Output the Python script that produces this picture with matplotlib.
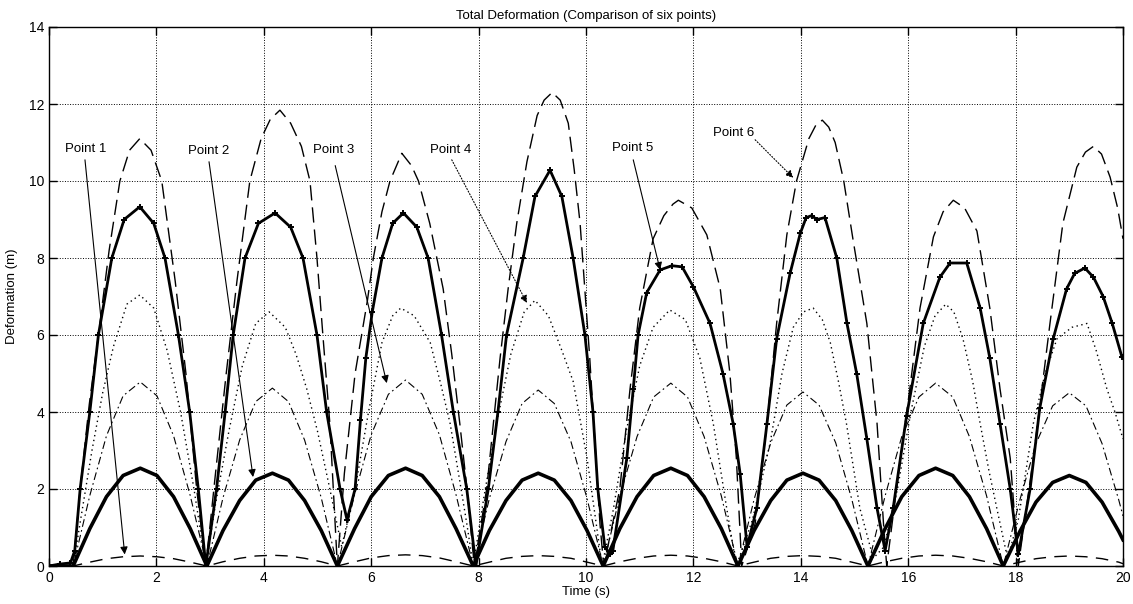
import matplotlib
matplotlib.use("Agg")
import matplotlib.pyplot as plt

# shared time base for points 1-3 (s)
time_a = [0.0, 0.2,
          0.45, 0.76, 1.07, 1.38, 1.70, 2.01, 2.32, 2.63,
          2.94, 3.24, 3.55, 3.85, 4.16, 4.46, 4.76, 5.07,
          5.37, 5.69, 6.00, 6.32, 6.64, 6.95, 7.27, 7.58,
          7.90, 8.20, 8.51, 8.81, 9.11, 9.41, 9.72, 10.02,
          10.32, 10.63, 10.95, 11.26, 11.58, 11.89, 12.20, 12.52,
          12.83, 13.13, 13.44, 13.74, 14.04, 14.34, 14.65, 14.95,
          15.25, 15.57, 15.88, 16.20, 16.51, 16.83, 17.14, 17.46,
          17.77, 18.08, 18.38, 18.69, 19.00, 19.31, 19.61, 19.92, 20.0]

p1_y = [0, 0,
        0, 0.1, 0.19, 0.24, 0.26, 0.24, 0.19, 0.1,
        0, 0.11, 0.2, 0.26, 0.28, 0.26, 0.2, 0.11,
        0, 0.11, 0.21, 0.27, 0.29, 0.27, 0.21, 0.11,
        0, 0.1, 0.2, 0.25, 0.27, 0.25, 0.2, 0.1,
        0, 0.11, 0.2, 0.26, 0.28, 0.26, 0.2, 0.11,
        0, 0.1, 0.2, 0.25, 0.27, 0.25, 0.2, 0.1,
        0, 0.11, 0.2, 0.26, 0.28, 0.26, 0.2, 0.11,
        0, 0.1, 0.19, 0.24, 0.26, 0.24, 0.19, 0.1, 0.06]

p2_y = [0, 0,
        0, 0.97, 1.80, 2.35, 2.54, 2.35, 1.80, 0.97,
        0, 0.92, 1.70, 2.23, 2.41, 2.23, 1.70, 0.92,
        0, 0.97, 1.80, 2.35, 2.54, 2.35, 1.80, 0.97,
        0, 0.92, 1.70, 2.23, 2.41, 2.23, 1.70, 0.92,
        0, 0.97, 1.80, 2.35, 2.54, 2.35, 1.80, 0.97,
        0, 0.92, 1.70, 2.23, 2.41, 2.23, 1.70, 0.92,
        0, 0.97, 1.80, 2.35, 2.54, 2.35, 1.80, 0.97,
        0, 0.90, 1.66, 2.17, 2.35, 2.17, 1.66, 0.90, 0.68]

p3_y = [0, 0,
        0, 1.83, 3.38, 4.42, 4.78, 4.42, 3.38, 1.83,
        0, 1.77, 3.27, 4.27, 4.62, 4.27, 3.27, 1.77,
        0, 1.85, 3.41, 4.46, 4.83, 4.46, 3.41, 1.85,
        0, 1.75, 3.23, 4.22, 4.57, 4.22, 3.23, 1.75,
        0, 1.82, 3.36, 4.39, 4.75, 4.39, 3.36, 1.82,
        0, 1.73, 3.20, 4.18, 4.52, 4.18, 3.20, 1.73,
        0, 1.82, 3.36, 4.39, 4.75, 4.39, 3.36, 1.82,
        0, 1.72, 3.18, 4.16, 4.50, 4.16, 3.18, 1.72, 1.3]

p4_t = [0.0, 0.45,
        0.60, 0.80, 1.00, 1.20, 1.45, 1.69, 1.95, 2.20, 2.45, 2.70, 2.92,
        3.10, 3.35, 3.60, 3.85, 4.10, 4.40, 4.60, 4.80, 5.00, 5.23, 5.45,
        5.70, 5.95, 6.20, 6.40, 6.55, 6.80, 7.10, 7.30, 7.47, 7.65, 7.78, 7.90,
        8.10, 8.35, 8.60, 8.85, 9.05, 9.30, 9.55, 9.76, 10.02, 10.30,
        10.50, 10.75, 11.00, 11.25, 11.56, 11.85, 12.12, 12.37, 12.62, 12.80,
        13.10, 13.43, 13.65, 13.86, 14.05, 14.23, 14.40, 14.55, 14.70, 14.85, 15.10, 15.35,
        15.55, 15.80, 16.05, 16.30, 16.50, 16.70, 16.85, 17.02, 17.20, 17.34, 17.50, 17.65, 17.85,
        18.05, 18.33, 18.55, 18.77, 19.05, 19.33, 19.50, 19.70, 19.85, 20.0]
p4_y = [0, 0,
        1.3, 3.0, 4.5, 5.7, 6.8, 7.04, 6.7, 5.6, 4.0, 2.0, 0,
        1.6, 3.5, 5.2, 6.3, 6.6, 6.2, 5.5, 4.6, 3.5, 2.0, 0.5,
        2.0, 4.0, 5.8, 6.5, 6.7, 6.5, 5.8, 4.7, 3.7, 2.2, 1.1, 0,
        1.8, 3.8, 5.5, 6.6, 6.9, 6.5, 5.6, 4.8, 2.8, 0,
        1.4, 3.5, 5.2, 6.2, 6.65, 6.4, 5.4, 3.7, 1.5, 0,
        1.2, 3.2, 5.0, 6.2, 6.6, 6.7, 6.4, 5.8, 4.8, 3.7, 1.5, 0.2,
        0.5, 2.0, 4.0, 5.7, 6.5, 6.8, 6.6, 5.9, 4.8, 3.7, 2.5, 1.5, 0.2,
        1.2, 3.7, 5.0, 5.9, 6.2, 6.3, 5.6, 4.6, 4.0, 3.3]

p5_t = [0.0, 0.2, 0.4, 0.48,
        0.58, 0.76, 0.92, 1.17, 1.40, 1.69, 1.95, 2.16, 2.41, 2.62, 2.78, 2.92,
        3.12, 3.28, 3.43, 3.65, 3.90, 4.21, 4.50, 4.73, 4.99, 5.17, 5.42, 5.55,
        5.70, 5.80, 5.90, 6.02, 6.20, 6.40, 6.60, 6.85, 7.06, 7.31, 7.53, 7.78, 7.95,
        8.18, 8.36, 8.52, 8.83, 9.05, 9.33, 9.55, 9.76, 9.98, 10.13, 10.22, 10.35, 10.45,
        10.50, 10.76, 10.88, 10.97, 11.13, 11.38, 11.60, 11.79, 12.00, 12.31, 12.55, 12.74, 12.87, 13.00,
        13.18, 13.37, 13.55, 13.80, 13.99, 14.10, 14.20, 14.30, 14.45, 14.67, 14.86, 15.04, 15.23, 15.42, 15.57,
        15.72, 15.97, 16.28, 16.59, 16.78, 17.09, 17.34, 17.52, 17.71, 17.90, 18.05,
        18.27, 18.45, 18.70, 18.95, 19.10, 19.29, 19.45, 19.63, 19.80, 19.98]
p5_y = [0, 0.05, 0.08, 0.4,
        2.0, 4.0, 6.0, 8.0, 9.0, 9.33, 8.9, 8.0, 6.0, 4.0, 2.0, 0,
        2.0, 4.0, 6.0, 8.0, 8.9, 9.17, 8.8, 8.0, 6.0, 4.0, 2.0, 1.2,
        2.0, 3.8, 5.4, 6.6, 8.0, 8.9, 9.17, 8.8, 8.0, 6.0, 4.0, 2.0, 0,
        2.0, 4.0, 6.0, 8.0, 9.6, 10.28, 9.6, 8.0, 6.0, 4.0, 2.0, 0.5, 0.3,
        0.4, 2.8, 4.6, 6.0, 7.1, 7.69, 7.8, 7.77, 7.25, 6.3, 5.0, 3.7, 2.4, 0.5,
        1.5, 3.7, 5.9, 7.6, 8.64, 9.05, 9.1, 9.0, 9.05, 8.0, 6.3, 5.0, 3.3, 1.5, 0.4,
        1.5, 3.9, 6.3, 7.5, 7.87, 7.87, 6.7, 5.4, 3.7, 2.0, 0.3,
        2.0, 4.1, 5.9, 7.2, 7.6, 7.74, 7.5, 7.0, 6.3, 5.43]

p6_t = [0.0, 0.45,
        0.58, 0.75, 0.92, 1.12, 1.32, 1.50, 1.69, 1.90, 2.10, 2.35, 2.55, 2.75, 2.92,
        3.10, 3.30, 3.50, 3.74, 3.95, 4.12, 4.30, 4.50, 4.70, 4.86, 4.99, 5.10, 5.23, 5.37,
        5.50, 5.70, 5.93, 6.04, 6.20, 6.35, 6.57, 6.75, 6.88, 7.09, 7.34, 7.50, 7.65, 7.80, 7.92,
        8.15, 8.40, 8.55, 8.71, 8.90, 9.09, 9.22, 9.37, 9.52, 9.67, 9.78, 9.89, 10.07, 10.26, 10.33,
        10.45, 10.63, 10.82, 11.00, 11.25, 11.45, 11.62, 11.72, 11.97, 12.25, 12.50, 12.68, 12.80, 12.90,
        13.15, 13.37, 13.55, 13.74, 13.92, 14.15, 14.28, 14.40, 14.52, 14.64, 14.80, 14.97, 15.23, 15.42, 15.54, 15.60,
        15.80, 16.03, 16.22, 16.47, 16.65, 16.84, 17.05, 17.28, 17.52, 17.71, 17.90, 18.05,
        18.33, 18.64, 18.88, 19.14, 19.30, 19.45, 19.60, 19.76, 19.90, 20.0]
p6_y = [0, 0,
        2.0, 4.2, 6.0, 8.2, 10.0, 10.8, 11.1, 10.8, 10.0, 7.4, 5.0, 2.0, 0,
        2.4, 5.0, 7.4, 10.0, 11.1, 11.6, 11.84, 11.5, 10.9, 10.0, 8.0, 6.0, 3.7, 0,
        2.4, 5.0, 6.9, 8.0, 9.2, 10.0, 10.72, 10.4, 10.0, 8.9, 7.2, 5.5, 3.7, 1.8, 0,
        2.0, 5.4, 7.2, 8.9, 10.5, 11.7, 12.1, 12.3, 12.1, 11.5, 10.3, 8.9, 5.4, 1.1, 0,
        0.8, 2.0, 4.6, 6.7, 8.5, 9.1, 9.4, 9.5, 9.3, 8.6, 7.2, 5.0, 2.8, 0,
        1.1, 3.7, 6.3, 8.6, 10.0, 11.1, 11.45, 11.58, 11.4, 11.0, 10.0, 8.5, 6.3, 3.7, 1.1, 0,
        2.2, 4.6, 6.7, 8.55, 9.2, 9.5, 9.3, 8.7, 6.7, 4.6, 2.8, 0,
        2.8, 6.3, 8.9, 10.36, 10.75, 10.9, 10.7, 10.1, 9.3, 8.5]

# annotations: label, text position, arrow tail, arrow head
labels = ["Point 1", "Point 2", "Point 3", "Point 4", "Point 5", "Point 6"]
label_xy = [(0.30, 10.83), (2.59, 10.78), (4.92, 10.80), (7.10, 10.80), (10.48, 10.86), (12.37, 11.25)]
arrow_from = [(0.67, 10.55), (2.98, 10.50), (5.33, 10.40), (7.50, 10.55), (10.88, 10.55), (13.15, 11.07)]
arrow_to = [(1.41, 0.30), (3.80, 2.31), (6.29, 4.75), (8.90, 6.83), (11.38, 7.69), (13.86, 10.08)]
arrow_ls = ['-', '-', '-', ':', '-', ':']

plt.rcParams['font.family'] = ['Liberation Sans', 'DejaVu Sans']

fig, ax = plt.subplots(figsize=(11.33, 6.04), dpi=100)
fig.subplots_adjust(left=49/1133, right=1123/1133, bottom=38/604, top=577/604)

ax.plot(time_a, p1_y, color='k', lw=1.0, dashes=(9, 6))
ax.plot(time_a, p2_y, color='k', lw=2.6)
ax.plot(time_a, p3_y, color='k', lw=0.8, dashes=(7, 3, 1.5, 3))
ax.plot(p4_t, p4_y, color='k', lw=1.0, dashes=(1, 2.5))
ax.plot(p5_t, p5_y, color='k', lw=2.0, marker='+', ms=5, mew=1.4)
ax.plot(p6_t, p6_y, color='k', lw=1.0, dashes=(11, 5))

for lab, (tx, ty), (fx, fy), (hx, hy), ls in zip(labels, label_xy, arrow_from, arrow_to, arrow_ls):
    ax.text(tx, ty, lab, fontsize=9.5, ha='left', va='center')
    ax.annotate('', xy=(hx, hy), xytext=(fx, fy),
                arrowprops=dict(arrowstyle='-|>', color='k', lw=0.8, linestyle=ls,
                                mutation_scale=11, shrinkA=0, shrinkB=0))

ax.set_xlim(0, 20)
ax.set_ylim(0, 14)
ax.set_xticks(range(0, 21, 2))
ax.set_yticks(range(0, 15, 2))
ax.grid(True, color='k', linestyle=':', lw=0.7)
ax.tick_params(direction='in', top=True, right=True, length=6, labelsize=10, width=1)
for s in ax.spines.values():
    s.set_linewidth(1.0)

ax.set_title("Total Deformation (Comparison of six points)", fontsize=9.5, pad=6)
ax.set_xlabel("Time (s)", fontsize=9.5, labelpad=1)
ax.set_ylabel("Deformation (m)", fontsize=9.5, labelpad=8)

fig.savefig("out.png", dpi=100)
